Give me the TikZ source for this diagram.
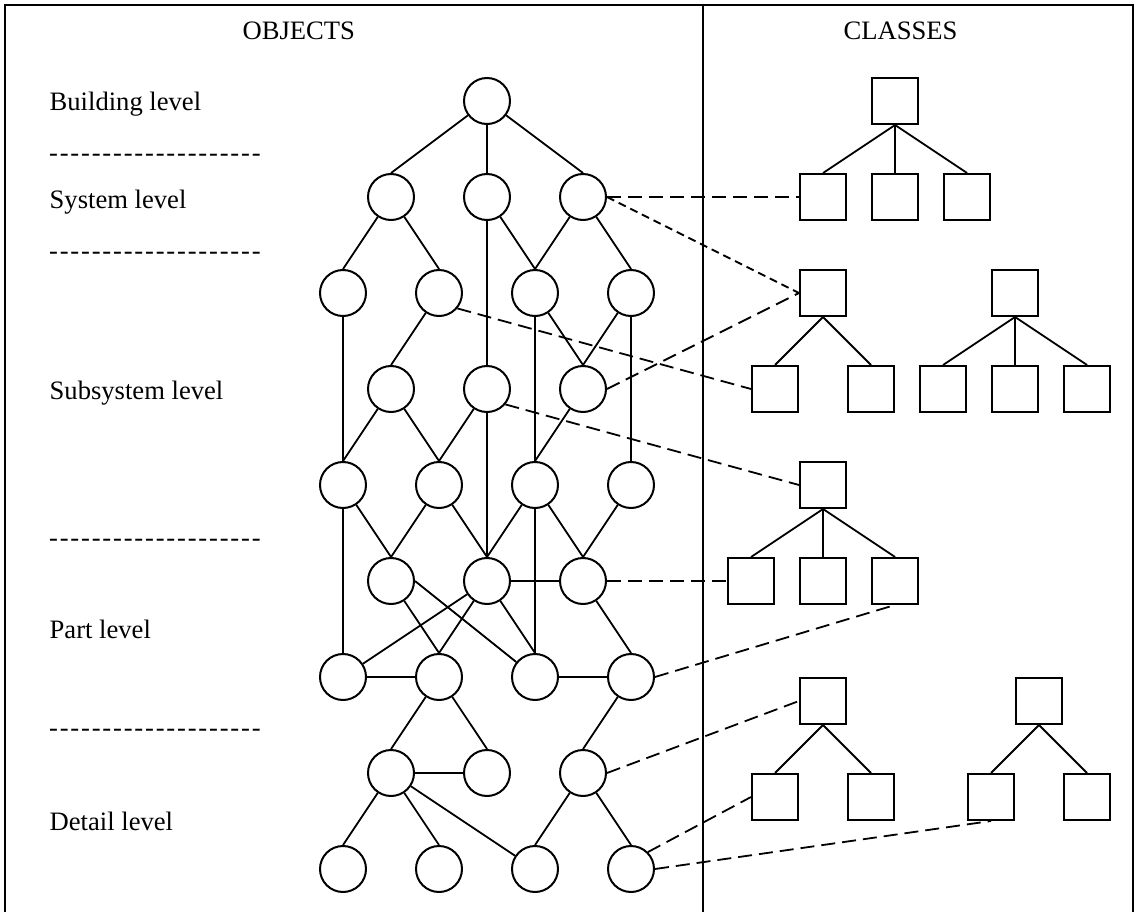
\documentclass[tikz,border=0pt]{standalone}
\usepackage{fontspec}
\setmainfont{Liberation Serif}
% one spaced hyphen of the level separators
\newcommand\hyph{\makebox[10.67pt][c]{-}}
\newcommand\levelrule{\hyph\hyph\hyph\hyph\hyph\hyph\hyph\hyph\hyph\hyph\hyph\hyph\hyph\hyph\hyph\hyph\hyph\hyph\hyph\hyph}
\begin{document}
\begin{tikzpicture}[x=1pt,y=-1pt,
  obj/.style={circle,draw,line width=2pt,minimum size=46pt,inner sep=0pt},
  cls/.style={rectangle,draw,line width=2pt,minimum size=46pt,inner sep=0pt},
  link/.style={line width=1.8pt},
  map/.style={line width=1.8pt,dash pattern=on 14pt off 7pt},
  mapfine/.style={line width=1.8pt,dash pattern=on 8pt off 5pt},
  frame/.style={line width=2.2pt},
  lbl/.style={font=\fontsize{26.6pt}{32pt}\selectfont,inner sep=0pt,anchor=base west},
]
\useasboundingbox (0,0) rectangle (1136,912);

% frame and column divider
\draw[frame] (5,912) -- (5,5) -- (1133,5) -- (1133,912);
\draw[frame] (703,5) -- (703,912);

% headings
\node[lbl] (hobj) at (242.5,39.3) {OBJECTS};
\node[lbl] (hcls) at (843.5,39.3) {CLASSES};

% level labels and separators
\node[lbl] (lbuild) at (49.5,111) {Building level};
\node[lbl] (r1) at (48,161.7) {\levelrule};
\node[lbl] (lsys) at (49.5,208.3) {System level};
\node[lbl] (r2) at (48,259.3) {\levelrule};
\node[lbl] (lsub) at (49.5,399.3) {Subsystem level};
\node[lbl] (r3) at (48,546) {\levelrule};
\node[lbl] (lpart) at (49.5,638.7) {Part level};
\node[lbl] (r4) at (48,736) {\levelrule};
\node[lbl] (ldet) at (49.5,830) {Detail level};

% object graph
\node[obj] (n0) at (487,101) {};
\node[obj] (n1a) at (391,197) {};
\node[obj] (n1b) at (487,197) {};
\node[obj] (n1c) at (583,197) {};
\node[obj] (n2a) at (343,293) {};
\node[obj] (n2b) at (439,293) {};
\node[obj] (n2c) at (535,293) {};
\node[obj] (n2d) at (631,293) {};
\node[obj] (n3a) at (391,389) {};
\node[obj] (n3b) at (487,389) {};
\node[obj] (n3c) at (583,389) {};
\node[obj] (n4a) at (343,485) {};
\node[obj] (n4b) at (439,485) {};
\node[obj] (n4c) at (535,485) {};
\node[obj] (n4d) at (631,485) {};
\node[obj] (n5a) at (391,581) {};
\node[obj] (n5b) at (487,581) {};
\node[obj] (n5c) at (583,581) {};
\node[obj] (n6a) at (343,677) {};
\node[obj] (n6b) at (439,677) {};
\node[obj] (n6c) at (535,677) {};
\node[obj] (n6d) at (631,677) {};
\node[obj] (n7a) at (391,773) {};
\node[obj] (n7b) at (487,773) {};
\node[obj] (n7c) at (583,773) {};
\node[obj] (n8a) at (343,869) {};
\node[obj] (n8b) at (439,869) {};
\node[obj] (n8c) at (535,869) {};
\node[obj] (n8d) at (631,869) {};

\foreach \p/\c in {n0/n1a,n0/n1b,n0/n1c,
    n1a/n2a,n1a/n2b,n1b/n3b,n1b/n2c,n1c/n2c,n1c/n2d,
    n2a/n4a,n2b/n3a,n2c/n4c,n2c/n3c,n2d/n3c,n2d/n4d,
    n3a/n4a,n3a/n4b,n3b/n4b,n3b/n5b,n3c/n4c,
    n4a/n5a,n4a/n6a,n4b/n5a,n4b/n5b,n4c/n5b,n4c/n5c,n4c/n6c,n4d/n5c,
    n5a/n6b,n5b/n6b,n5b/n6c,n5c/n6d,
    n6b/n7a,n6b/n7b,n6d/n7c,
    n7a/n8a,n7a/n8b,n7c/n8c,n7c/n8d}
  \draw[link] (\p) -- (\c.north);
\draw[link] (n5a.east) -- (n6c);
\draw[link] (n5b) -- (n6a);
\draw[link] (n7a) -- (n8c);
\draw[link] (n5b) -- (n5c);
\draw[link] (n6a) -- (n6b);
\draw[link] (n6c) -- (n6d);
\draw[link] (n7a) -- (n7b);

% class hierarchies
\node[cls] (t1) at (895,101) {};
\node[cls] (s1a) at (823,197) {};
\node[cls] (s1b) at (895,197) {};
\node[cls] (s1c) at (967,197) {};
\node[cls] (t2) at (823,293) {};
\node[cls] (s2a) at (775,389) {};
\node[cls] (s2b) at (871,389) {};
\node[cls] (t3) at (1015,293) {};
\node[cls] (s3a) at (943,389) {};
\node[cls] (s3b) at (1015,389) {};
\node[cls] (s3c) at (1087,389) {};
\node[cls] (t4) at (823,485) {};
\node[cls] (s4a) at (751,581) {};
\node[cls] (s4b) at (823,581) {};
\node[cls] (s4c) at (895,581) {};
\node[cls] (t5) at (823,701) {};
\node[cls] (s5a) at (775,797) {};
\node[cls] (s5b) at (871,797) {};
\node[cls] (t6) at (1039,701) {};
\node[cls] (s6a) at (991,797) {};
\node[cls] (s6b) at (1087,797) {};

\foreach \p/\c in {t1/s1a,t1/s1b,t1/s1c,t2/s2a,t2/s2b,t3/s3a,t3/s3b,t3/s3c,
    t4/s4a,t4/s4b,t4/s4c,t5/s5a,t5/s5b,t6/s6a,t6/s6b}
  \draw[link] (\p.south) -- (\c.north);

% object-to-class mappings
\draw[map] (n1c.east) -- (s1a.west);
\draw[mapfine] (n1c.east) -- (t2.west);
\draw[map] (n3c.east) -- (t2.west);
\draw[map] (n2b.-40) -- (s2a.west);
\draw[map] (n3b.-40) -- (t4.west);
\draw[map] (n5c.east) -- (s4a.west);
\draw[map] (n6d.east) -- (s4c.south);
\draw[map] (n7c.east) -- (t5.west);
\draw[map] (n8d.45) -- (s5a.west);
\draw[map] (n8d.east) -- (s6a.south);
\end{tikzpicture}
\end{document}
